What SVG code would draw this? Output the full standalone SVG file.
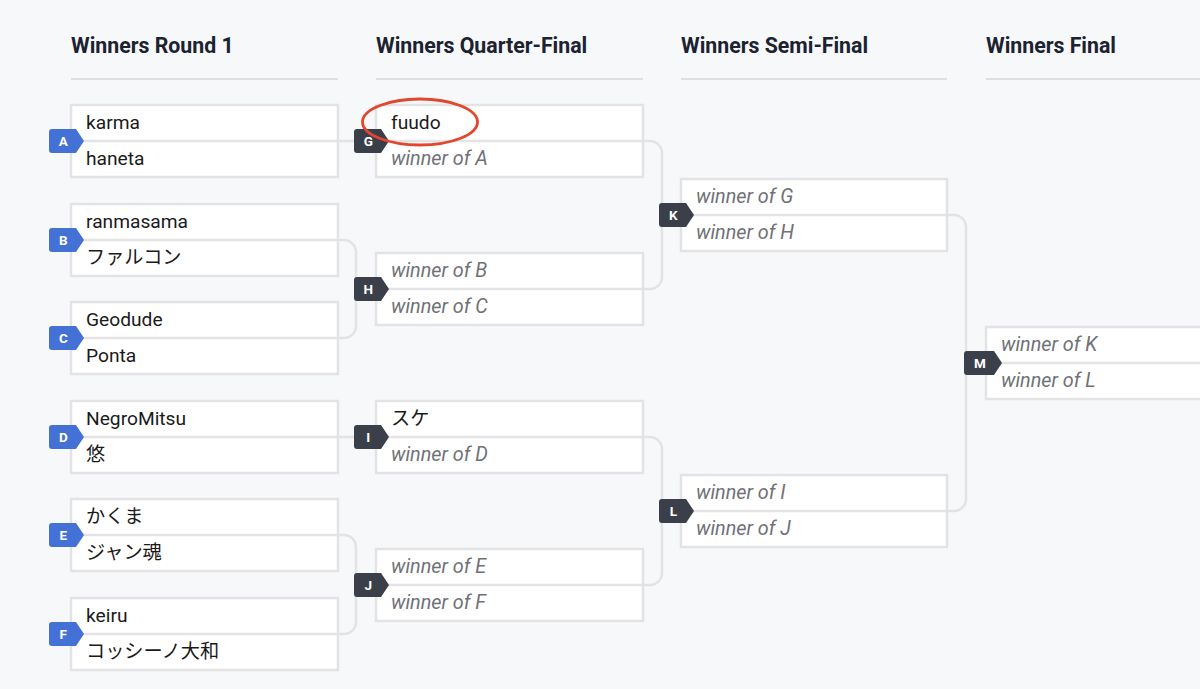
<svg xmlns="http://www.w3.org/2000/svg" width="1200" height="689" viewBox="0 0 1200 689">
<style>
.hdr{font-family:Roboto,"Liberation Sans",sans-serif;font-weight:700;font-size:21.3px;fill:#1b2230}
.hl{stroke:#dedfe2;stroke-width:2}
.box{fill:#fff;stroke:#e3e3e5;stroke-width:2.5}
.div{stroke:#e3e3e5;stroke-width:2.5}
.nm{font-family:Roboto,"Noto Sans CJK JP",sans-serif;font-size:19.2px;fill:#1a1a1a}
.tbd{font-family:Roboto,"Noto Sans CJK JP",sans-serif;font-size:19.8px;font-style:italic;fill:#6f7177}
.con{fill:none;stroke:#e3e3e5;stroke-width:2.5}
.bb{fill:#4471d6}
.bd{fill:#3a3f4a}
.bl{font-family:Roboto,"Liberation Sans",sans-serif;font-weight:700;font-size:13.5px;fill:#fff;text-anchor:middle}
</style>
<defs>
<path id="badge" d="M3,-12 H27 L35,0 L27,12 H3 Q0,12 0,9 V-9 Q0,-12 3,-12 Z"/>
<path id="badgew" d="M3,-12 H30 L38,0 L30,12 H3 Q0,12 0,9 V-9 Q0,-12 3,-12 Z"/>
</defs>
<rect x="0" y="0" width="1200" height="689" fill="#f7f8fa"/>

<g id="headers">
<text class="hdr" x="71" y="53">Winners Round 1</text>
<line class="hl" x1="71" y1="79" x2="338" y2="79"/>
<text class="hdr" x="376" y="53">Winners Quarter-Final</text>
<line class="hl" x1="376" y1="79" x2="643" y2="79"/>
<text class="hdr" x="681" y="53">Winners Semi-Final</text>
<line class="hl" x1="681" y1="79" x2="947" y2="79"/>
<text class="hdr" x="986" y="53">Winners Final</text>
<line class="hl" x1="986" y1="79" x2="1200" y2="79"/>
</g>

<g id="connectors">
<path class="con" d="M339,141 H356"/>
<path class="con" d="M339,240 H344 A12,12 0 0 1 356,252 V326 A12,12 0 0 1 344,338 H339"/>
<path class="con" d="M339,437 H356"/>
<path class="con" d="M339,535 H344 A12,12 0 0 1 356,547 V622 A12,12 0 0 1 344,634 H339"/>
<path class="con" d="M644,141 H650 A12,12 0 0 1 662,153 V277 A12,12 0 0 1 650,289 H644"/>
<path class="con" d="M644,437 H650 A12,12 0 0 1 662,449 V573 A12,12 0 0 1 650,585 H644"/>
<path class="con" d="M948,215 H954 A12,12 0 0 1 966,227 V499 A12,12 0 0 1 954,511 H948"/>
</g>

<g id="match-A">
<rect class="box" x="71" y="105" width="267" height="72"/>
<line class="div" x1="71" y1="141" x2="338" y2="141"/>
<text class="nm" x="86" y="129">karma</text>
<text class="nm" x="86" y="165">haneta</text>
<g transform="translate(49,141)"><use href="#badge" class="bb"/><text class="bl" x="14.3" y="4.8">A</text></g>
</g>
<g id="match-B">
<rect class="box" x="71" y="204" width="267" height="72"/>
<line class="div" x1="71" y1="240" x2="338" y2="240"/>
<text class="nm" x="86" y="228">ranmasama</text>
<text class="nm" x="86" y="264">ファルコン</text>
<g transform="translate(49,240)"><use href="#badge" class="bb"/><text class="bl" x="14.3" y="4.8">B</text></g>
</g>
<g id="match-C">
<rect class="box" x="71" y="302" width="267" height="72"/>
<line class="div" x1="71" y1="338" x2="338" y2="338"/>
<text class="nm" x="86" y="326">Geodude</text>
<text class="nm" x="86" y="362">Ponta</text>
<g transform="translate(49,338)"><use href="#badge" class="bb"/><text class="bl" x="14.3" y="4.8">C</text></g>
</g>
<g id="match-D">
<rect class="box" x="71" y="401" width="267" height="72"/>
<line class="div" x1="71" y1="437" x2="338" y2="437"/>
<text class="nm" x="86" y="425">NegroMitsu</text>
<text class="nm" x="86" y="461">悠</text>
<g transform="translate(49,437)"><use href="#badge" class="bb"/><text class="bl" x="14.3" y="4.8">D</text></g>
</g>
<g id="match-E">
<rect class="box" x="71" y="499" width="267" height="72"/>
<line class="div" x1="71" y1="535" x2="338" y2="535"/>
<text class="nm" x="86" y="523">かくま</text>
<text class="nm" x="86" y="559">ジャン魂</text>
<g transform="translate(49,535)"><use href="#badge" class="bb"/><text class="bl" x="14.3" y="4.8">E</text></g>
</g>
<g id="match-F">
<rect class="box" x="71" y="598" width="267" height="72"/>
<line class="div" x1="71" y1="634" x2="338" y2="634"/>
<text class="nm" x="86" y="622">keiru</text>
<text class="nm" x="86" y="658">コッシーノ大和</text>
<g transform="translate(49,634)"><use href="#badge" class="bb"/><text class="bl" x="14.3" y="4.8">F</text></g>
</g>

<g id="match-G">
<rect class="box" x="376" y="105" width="267" height="72"/>
<line class="div" x1="376" y1="141" x2="643" y2="141"/>
<text class="nm" x="391" y="129">fuudo</text>
<text class="tbd" x="391" y="165">winner of A</text>
<g transform="translate(354,141)"><use href="#badge" class="bd"/><text class="bl" x="14.3" y="4.8">G</text></g>
<ellipse cx="420" cy="122" rx="57.5" ry="23" fill="none" stroke="#e2472d" stroke-width="2.8"/>
</g>
<g id="match-H">
<rect class="box" x="376" y="253" width="267" height="72"/>
<line class="div" x1="376" y1="289" x2="643" y2="289"/>
<text class="tbd" x="391" y="277">winner of B</text>
<text class="tbd" x="391" y="313">winner of C</text>
<g transform="translate(354,289)"><use href="#badge" class="bd"/><text class="bl" x="14.3" y="4.8">H</text></g>
</g>
<g id="match-I">
<rect class="box" x="376" y="401" width="267" height="72"/>
<line class="div" x1="376" y1="437" x2="643" y2="437"/>
<text class="nm" x="391" y="425">スケ</text>
<text class="tbd" x="391" y="461">winner of D</text>
<g transform="translate(354,437)"><use href="#badge" class="bd"/><text class="bl" x="14.3" y="4.8">I</text></g>
</g>
<g id="match-J">
<rect class="box" x="376" y="549" width="267" height="72"/>
<line class="div" x1="376" y1="585" x2="643" y2="585"/>
<text class="tbd" x="391" y="573">winner of E</text>
<text class="tbd" x="391" y="609">winner of F</text>
<g transform="translate(354,585)"><use href="#badge" class="bd"/><text class="bl" x="14.3" y="4.8">J</text></g>
</g>

<g id="match-K">
<rect class="box" x="681" y="179" width="266" height="72"/>
<line class="div" x1="681" y1="215" x2="947" y2="215"/>
<text class="tbd" x="696" y="203">winner of G</text>
<text class="tbd" x="696" y="239">winner of H</text>
<g transform="translate(659,215)"><use href="#badge" class="bd"/><text class="bl" x="14.3" y="4.8">K</text></g>
</g>
<g id="match-L">
<rect class="box" x="681" y="475" width="266" height="72"/>
<line class="div" x1="681" y1="511" x2="947" y2="511"/>
<text class="tbd" x="696" y="499">winner of I</text>
<text class="tbd" x="696" y="535">winner of J</text>
<g transform="translate(659,511)"><use href="#badge" class="bd"/><text class="bl" x="14.3" y="4.8">L</text></g>
</g>

<g id="match-M">
<rect class="box" x="986" y="327" width="230" height="72"/>
<line class="div" x1="986" y1="363" x2="1216" y2="363"/>
<text class="tbd" x="1001" y="351">winner of K</text>
<text class="tbd" x="1001" y="387">winner of L</text>
<g transform="translate(964,363)"><use href="#badgew" class="bd"/><text class="bl" x="15.8" y="4.8">M</text></g>
</g>
</svg>
